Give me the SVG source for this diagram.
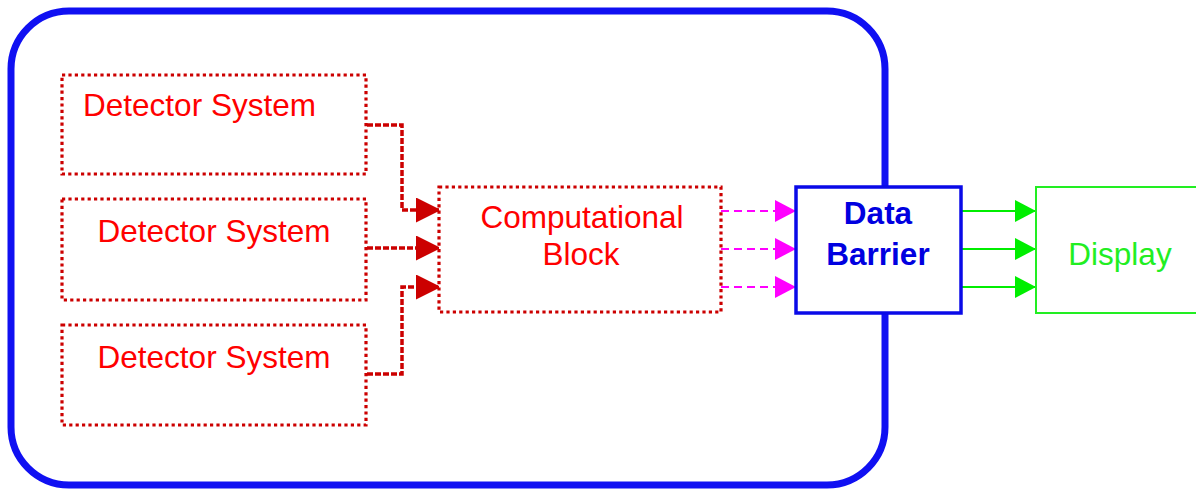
<svg xmlns="http://www.w3.org/2000/svg" width="1196" height="489" viewBox="0 0 1196 489">
<defs>
<style>
.lbl{font-family:"Liberation Sans",Arial,sans-serif;font-size:31.5px;text-anchor:middle}
.red{fill:#FF0000}
.det{fill:#FFFFFF;stroke:#CC0000;stroke-width:3.2;stroke-dasharray:3.2 3.2}
.rc{fill:none;stroke:#CC0000;stroke-width:3.5;stroke-dasharray:6 2}
.mc{fill:none;stroke:#FF00FF;stroke-width:2;stroke-dasharray:8 5}
.gc{fill:none;stroke:#00EE00;stroke-width:2}
</style>
<marker id="ar" markerUnits="userSpaceOnUse" viewBox="0 0 25 25" markerWidth="25" markerHeight="25" refX="25" refY="12.5" orient="auto"><path d="M0,0 L25,12.5 L0,25 z" fill="#CC0000"/></marker>
<marker id="am" markerUnits="userSpaceOnUse" viewBox="0 0 21 22" markerWidth="21" markerHeight="22" refX="21" refY="11" orient="auto"><path d="M0,0 L21,11 L0,22 z" fill="#FF00FF"/></marker>
<marker id="ag" markerUnits="userSpaceOnUse" viewBox="0 0 21 22" markerWidth="21" markerHeight="22" refX="21" refY="11" orient="auto"><path d="M0,0 L21,11 L0,22 z" fill="#00EE00"/></marker>
</defs>
<rect width="1196" height="489" fill="#FFFFFF"/>
<g id="enclosure">
<rect x="11" y="11" width="874" height="474" rx="58" ry="58" fill="none" stroke="#1010F2" stroke-width="7"/>
</g>
<g id="connectors">
<path class="rc" d="M367,125 H402 V210 H441" marker-end="url(#ar)"/>
<path class="rc" d="M367,248 H441" marker-end="url(#ar)"/>
<path class="rc" d="M367,374 H402 V287 H441" marker-end="url(#ar)"/>
<path class="mc" d="M721,211 H796" marker-end="url(#am)"/>
<path class="mc" d="M721,249 H796" marker-end="url(#am)"/>
<path class="mc" d="M721,287 H796" marker-end="url(#am)"/>
<path class="gc" d="M961,211 H1036" marker-end="url(#ag)"/>
<path class="gc" d="M961,249 H1036" marker-end="url(#ag)"/>
<path class="gc" d="M961,287 H1036" marker-end="url(#ag)"/>
</g>
<g id="detector1">
<rect class="det" x="62" y="75" width="304" height="99"/>
<text class="lbl red" x="199.5" y="116">Detector System</text>
</g>
<g id="detector2">
<rect class="det" x="62" y="199" width="304" height="101"/>
<text class="lbl red" x="214" y="242">Detector System</text>
</g>
<g id="detector3">
<rect class="det" x="62" y="325" width="304" height="100"/>
<text class="lbl red" x="214" y="368">Detector System</text>
</g>
<g id="computational">
<rect class="det" x="439" y="187" width="282" height="125"/>
<text class="lbl red" x="582" y="228">Computational</text>
<text class="lbl red" x="581" y="265">Block</text>
</g>
<g id="barrier">
<rect x="796" y="187" width="165" height="126" fill="#FFFFFF" stroke="#0A0AE8" stroke-width="3.5"/>
<text class="lbl" x="878" y="224" font-weight="bold" font-size="30" fill="#0000E0">Data</text>
<text class="lbl" x="878" y="265" font-weight="bold" font-size="30" fill="#0000E0">Barrier</text>
</g>
<g id="display">
<rect x="1036" y="187" width="200" height="126" fill="#FFFFFF" stroke="#22EE22" stroke-width="2"/>
<text class="lbl" x="1120" y="265" fill="#22EE22">Display</text>
</g>
</svg>
